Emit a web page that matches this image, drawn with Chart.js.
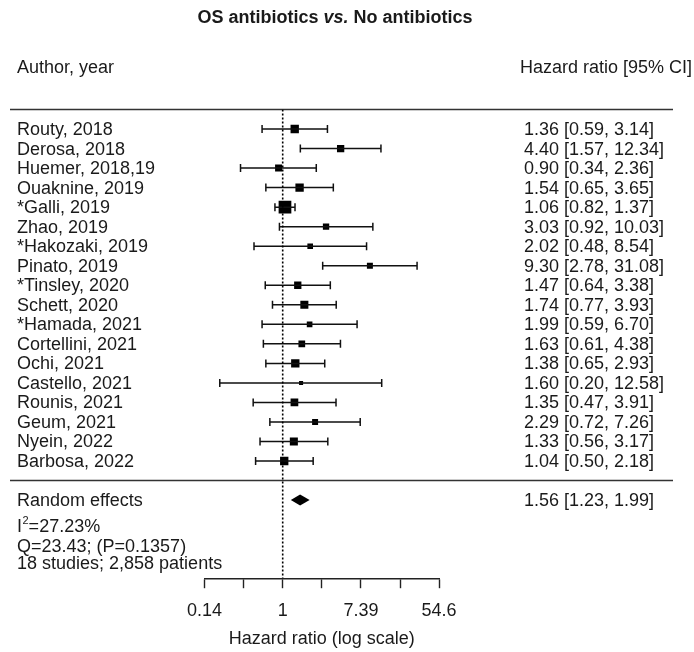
<!DOCTYPE html>
<html><head><meta charset="utf-8">
<script src="https://cdn.jsdelivr.net/npm/chart.js@4.4.1/dist/chart.umd.min.js"></script>
<style>html,body{margin:0;padding:0;background:#fff;} canvas{display:block}</style>
</head><body>
<canvas id="c" width="694" height="652"></canvas>
<script>
// ---------- data ----------
const studies = ['Routy, 2018','Derosa, 2018','Huemer, 2018,19','Ouaknine, 2019','*Galli, 2019','Zhao, 2019','*Hakozaki, 2019','Pinato, 2019','*Tinsley, 2020','Schett, 2020','*Hamada, 2021','Cortellini, 2021','Ochi, 2021','Castello, 2021','Rounis, 2021','Geum, 2021','Nyein, 2022','Barbosa, 2022'];
const hr    = [1.36,4.40,0.90,1.54,1.06,3.03,2.02,9.30,1.47,1.74,1.99,1.63,1.38,1.60,1.35,2.29,1.33,1.04];
const lower = [0.59,1.57,0.34,0.65,0.82,0.92,0.48,2.78,0.64,0.77,0.59,0.61,0.65,0.20,0.47,0.72,0.56,0.50];
const upper = [3.14,12.34,2.36,3.65,1.37,10.03,8.54,31.08,3.38,3.93,6.70,4.38,2.93,12.58,3.91,7.26,3.17,2.18];
const weights = [6.8,5.2,4.8,6.8,15.8,3.9,3.1,3.5,5.2,6.3,3.1,4.4,6.8,1.6,5.8,3.5,6.3,6.8]; // relative weight (%)
const pooled = {label:'Random effects', hr:1.56, lower:1.23, upper:1.99};
const hetLines = ['=27.23%','Q=23.43; (P=0.1357)','18 studies; 2,858 patients'];
const tickExps = [-2,-1,0,1,2,3,4];
const tickLabels = ['0.14','','1','','7.39','','54.6'];
const titleParts = [['OS antibiotics ','bold'],['vs.','italic bold'],[' No antibiotics','bold']];
const headerLeft = 'Author, year';
const headerRight = 'Hazard ratio [95% CI]';
const xTitle = 'Hazard ratio (log scale)';

// ---------- layout ----------
const FONT = '"Liberation Sans", Arial, Helvetica, sans-serif';
const TXT = '#1a1a1a';
const summaryRow = studies.length + 1;
const fmt = v => v.toFixed(2);
const ciText = (e,l,u) => `${fmt(e)} [${fmt(l)}, ${fmt(u)}]`;

const ciData = [], capData = [], sqData = [];
studies.forEach((s,i)=>{
  ciData.push({x:lower[i],y:i},{x:upper[i],y:i},{x:NaN,y:NaN});
  capData.push({x:lower[i],y:i},{x:upper[i],y:i});
  sqData.push({x:hr[i],y:i});
});
const sqRadius = weights.map(w => 3.2*Math.sqrt(w)/Math.SQRT2);

Chart.defaults.font.family = FONT;
Chart.defaults.font.size = 18;
Chart.defaults.color = TXT;

const deco = {
  id:'deco',
  beforeDatasetsDraw(chart){
    const ctx = chart.ctx, y = chart.scales.y;
    ctx.save();
    ctx.strokeStyle = '#333'; ctx.lineWidth = 1.5;
    [-1, studies.length].forEach(r=>{
      const py = y.getPixelForValue(r);
      ctx.beginPath(); ctx.moveTo(10,py); ctx.lineTo(673,py); ctx.stroke();
    });
    ctx.restore();
  },
  afterDatasetsDraw(chart){
    const ctx = chart.ctx, x = chart.scales.x, y = chart.scales.y, ca = chart.chartArea;
    ctx.save();
    // diamond
    const py = y.getPixelForValue(summaryRow);
    ctx.fillStyle = '#000';
    ctx.beginPath();
    ctx.moveTo(x.getPixelForValue(pooled.lower), py);
    ctx.lineTo(x.getPixelForValue(pooled.hr), py-5.5);
    ctx.lineTo(x.getPixelForValue(pooled.upper), py);
    ctx.lineTo(x.getPixelForValue(pooled.hr), py+5.5);
    ctx.closePath(); ctx.fill();

    // title
    ctx.fillStyle = TXT; ctx.textBaseline = 'middle';
    let tw = 0;
    titleParts.forEach(([t,f])=>{ ctx.font = `${f} 18px ${FONT}`; tw += ctx.measureText(t).width; });
    let tx = 335 - tw/2;
    titleParts.forEach(([t,f])=>{ ctx.font = `${f} 18px ${FONT}`; ctx.textAlign='left'; ctx.fillText(t, tx, 18); tx += ctx.measureText(t).width; });

    ctx.font = `18px ${FONT}`;
    ctx.textAlign = 'left';
    ctx.fillText(headerLeft, 17, 68);
    ctx.textAlign = 'right';
    ctx.fillText(headerRight, 692, 68);

    ctx.textAlign = 'left';
    const dy = 1;
    studies.forEach((s,i)=>{
      const yy = y.getPixelForValue(i) + dy;
      ctx.fillText(s, 17, yy);
      ctx.fillText(ciText(hr[i],lower[i],upper[i]), 524, yy);
    });
    ctx.fillText(pooled.label, 17, py + dy);
    ctx.fillText(ciText(pooled.hr,pooled.lower,pooled.upper), 524, py + dy);

    // heterogeneity
    const r1 = y.getPixelForValue(summaryRow+1.4);
    ctx.fillText('I', 17, r1);
    const wI = ctx.measureText('I').width;
    ctx.font = `11px ${FONT}`;
    ctx.fillText('2', 17+wI+0.5, r1-6);
    const w2 = ctx.measureText('2').width;
    ctx.font = `18px ${FONT}`;
    ctx.fillText(hetLines[0], 17+wI+w2+0.5, r1);
    ctx.fillText(hetLines[1], 17, y.getPixelForValue(summaryRow+2.4));
    ctx.fillText(hetLines[2], 17, y.getPixelForValue(summaryRow+3.3));

    // x axis title
    ctx.textAlign = 'center';
    ctx.fillText(xTitle, (ca.left+ca.right)/2, 639);
    ctx.restore();
  }
};

new Chart(document.getElementById('c'), {
  type:'scatter',
  data:{datasets:[
    {data:[{x:1,y:-1},{x:1,y:23}], showLine:true, pointRadius:0, borderColor:'#000', borderWidth:1.6, borderDash:[2,2]},
    {data:ciData, showLine:true, pointRadius:0, borderColor:'#111', borderWidth:1.5, spanGaps:false},
    {data:capData, pointStyle:'line', pointRotation:90, pointRadius:4, borderColor:'#111', borderWidth:1.5},
    {data:sqData, pointStyle:'rect', pointRadius:sqRadius, backgroundColor:'#000', borderWidth:0}
  ]},
  options:{
    responsive:false, animation:false, events:[],
    layout:{padding:{left:204.5, right:254.9, top:109.5, bottom:0}},
    plugins:{legend:{display:false}, tooltip:{enabled:false}},
    scales:{
      x:{type:'logarithmic', min:Math.exp(-2), max:Math.exp(4),
        afterBuildTicks(s){ s.ticks = tickExps.map(k=>({value:Math.exp(k)})); },
        afterFit(s){ s.height = 73.8; },
        ticks:{autoSkip:false, maxRotation:0, padding:12, color:TXT, font:{size:18},
          callback:(v,i)=>tickLabels[i]},
        grid:{drawOnChartArea:false, drawTicks:true, tickLength:10, tickColor:'#222', tickWidth:1.4},
        border:{display:true, color:'#222', width:1.4}
      },
      y:{type:'linear', reverse:true, min:-1, max:23, display:false}
    }
  },
  plugins:[deco]
});
</script>
</body></html>
